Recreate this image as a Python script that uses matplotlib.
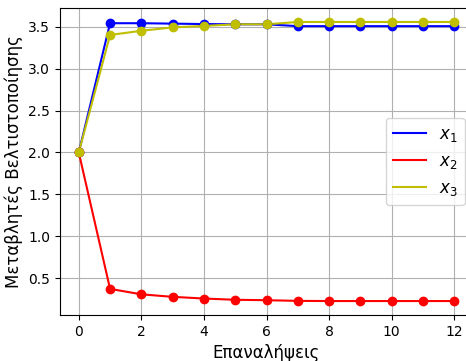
import matplotlib
matplotlib.use("Agg")
import matplotlib.pyplot as plt

iters = list(range(13))
x1 = [2.0, 3.54, 3.54, 3.535, 3.53, 3.527, 3.527, 3.505, 3.505, 3.505, 3.505, 3.505, 3.505]
x2 = [2.0, 0.375, 0.31, 0.28, 0.26, 0.245, 0.24, 0.232, 0.23, 0.23, 0.23, 0.23, 0.23]
x3 = [2.0, 3.40, 3.45, 3.49, 3.508, 3.527, 3.527, 3.555, 3.555, 3.555, 3.555, 3.555, 3.555]

fig = plt.figure(figsize=(4.66, 3.61), dpi=100)
# the original image is cropped on the right, so the axes run past the edge
ax = fig.add_axes([60/466, 46/361, 413/466, 307/361])

ax.plot(iters, x1, 'b-', label='$x_1$')
ax.plot(iters, x2, 'r-', label='$x_2$')
ax.plot(iters, x3, 'y-', label='$x_3$')
ax.plot(iters, x1, 'bo')
ax.plot(iters, x2, 'ro')
ax.plot(iters, x3, 'yo')

ax.set_xlabel("Επαναλήψεις", fontsize=12)
ax.set_ylabel("Μεταβλητές Βελτιστοποίησης", fontsize=12)
ax.grid(True)
ax.legend(loc='center right', fontsize=12)

fig.savefig("out.png")
